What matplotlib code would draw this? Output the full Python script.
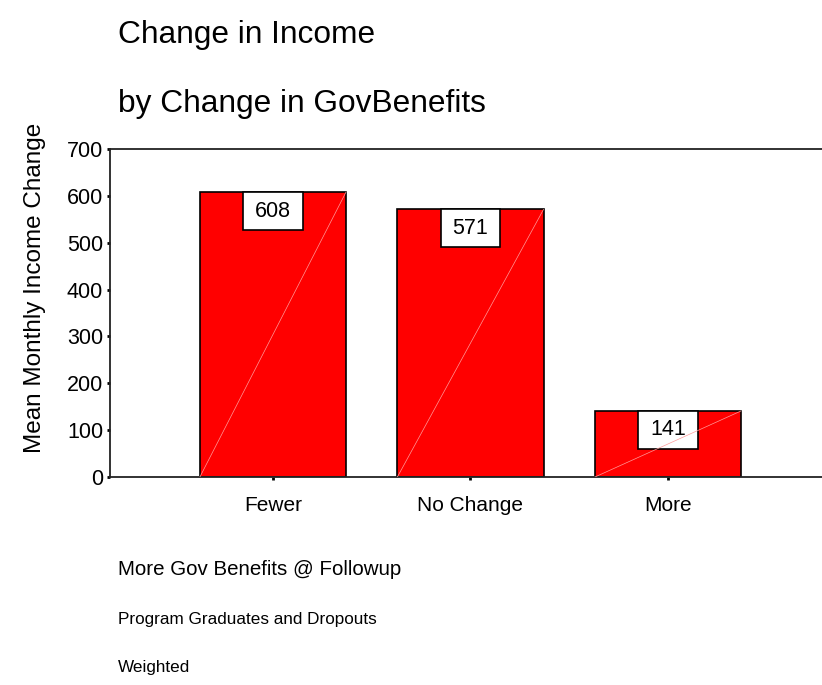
import matplotlib.pyplot as plt
from matplotlib.patches import Rectangle

plt.rcParams['font.family'] = ['Liberation Sans', 'DejaVu Sans']

# data
categories = ['Fewer', 'No Change', 'More']
values = [608, 571, 141]
y_ticks = [0, 100, 200, 300, 400, 500, 600, 700]

fig = plt.figure(figsize=(8.22, 6.85), dpi=100)
ax = fig.add_axes([0.1338, 0.3036, 0.8662, 0.4789])

x = list(range(len(categories)))
bar_w = 0.74
ax.bar(x, values, width=bar_w, color='#ff0000', edgecolor='black', linewidth=1.2, zorder=2)

box_w = 0.30
box_h = 81
for i, v in enumerate(values):
    # faint diagonal seen in the original rendering
    ax.plot([i - bar_w / 2, i + bar_w / 2], [0, v], color='#ff9a9a', lw=0.5, zorder=4)
    ax.add_patch(Rectangle((i - box_w / 2, v - box_h), box_w, box_h,
                           facecolor='white', edgecolor='black', lw=1.2, zorder=3))
    ax.text(i, v - box_h / 2, str(v), ha='center', va='center', fontsize=15.5, zorder=5)

ax.set_xlim(-0.825, 2.78)
ax.set_ylim(0, 700)
ax.set_xticks(x)
ax.set_xticklabels(categories, fontsize=15)
ax.set_yticks(y_ticks)
ax.set_yticklabels([str(t) for t in y_ticks], fontsize=15.5)
ax.tick_params(axis='both', length=2, width=2, color='black')
ax.tick_params(axis='x', pad=12)
ax.tick_params(axis='y', pad=3)

for side in ['left', 'top', 'bottom']:
    ax.spines[side].set_linewidth(1.3)
    ax.spines[side].set_color('#222222')
ax.spines['right'].set_visible(False)

fig.text(0.1436, 0.949, 'Change in Income', fontsize=22.8, va='center')
fig.text(0.1436, 0.848, 'by Change in GovBenefits', fontsize=22.8, va='center')
fig.text(0.043, 0.58, 'Mean Monthly Income Change', fontsize=17.5, rotation=90,
         ha='center', va='center')
fig.text(0.1436, 0.168, 'More Gov Benefits @ Followup', fontsize=14.8, va='center')
fig.text(0.1436, 0.095, 'Program Graduates and Dropouts', fontsize=12.3, va='center')
fig.text(0.1436, 0.025, 'Weighted', fontsize=12.3, va='center')

fig.savefig('out.png', dpi=100)
